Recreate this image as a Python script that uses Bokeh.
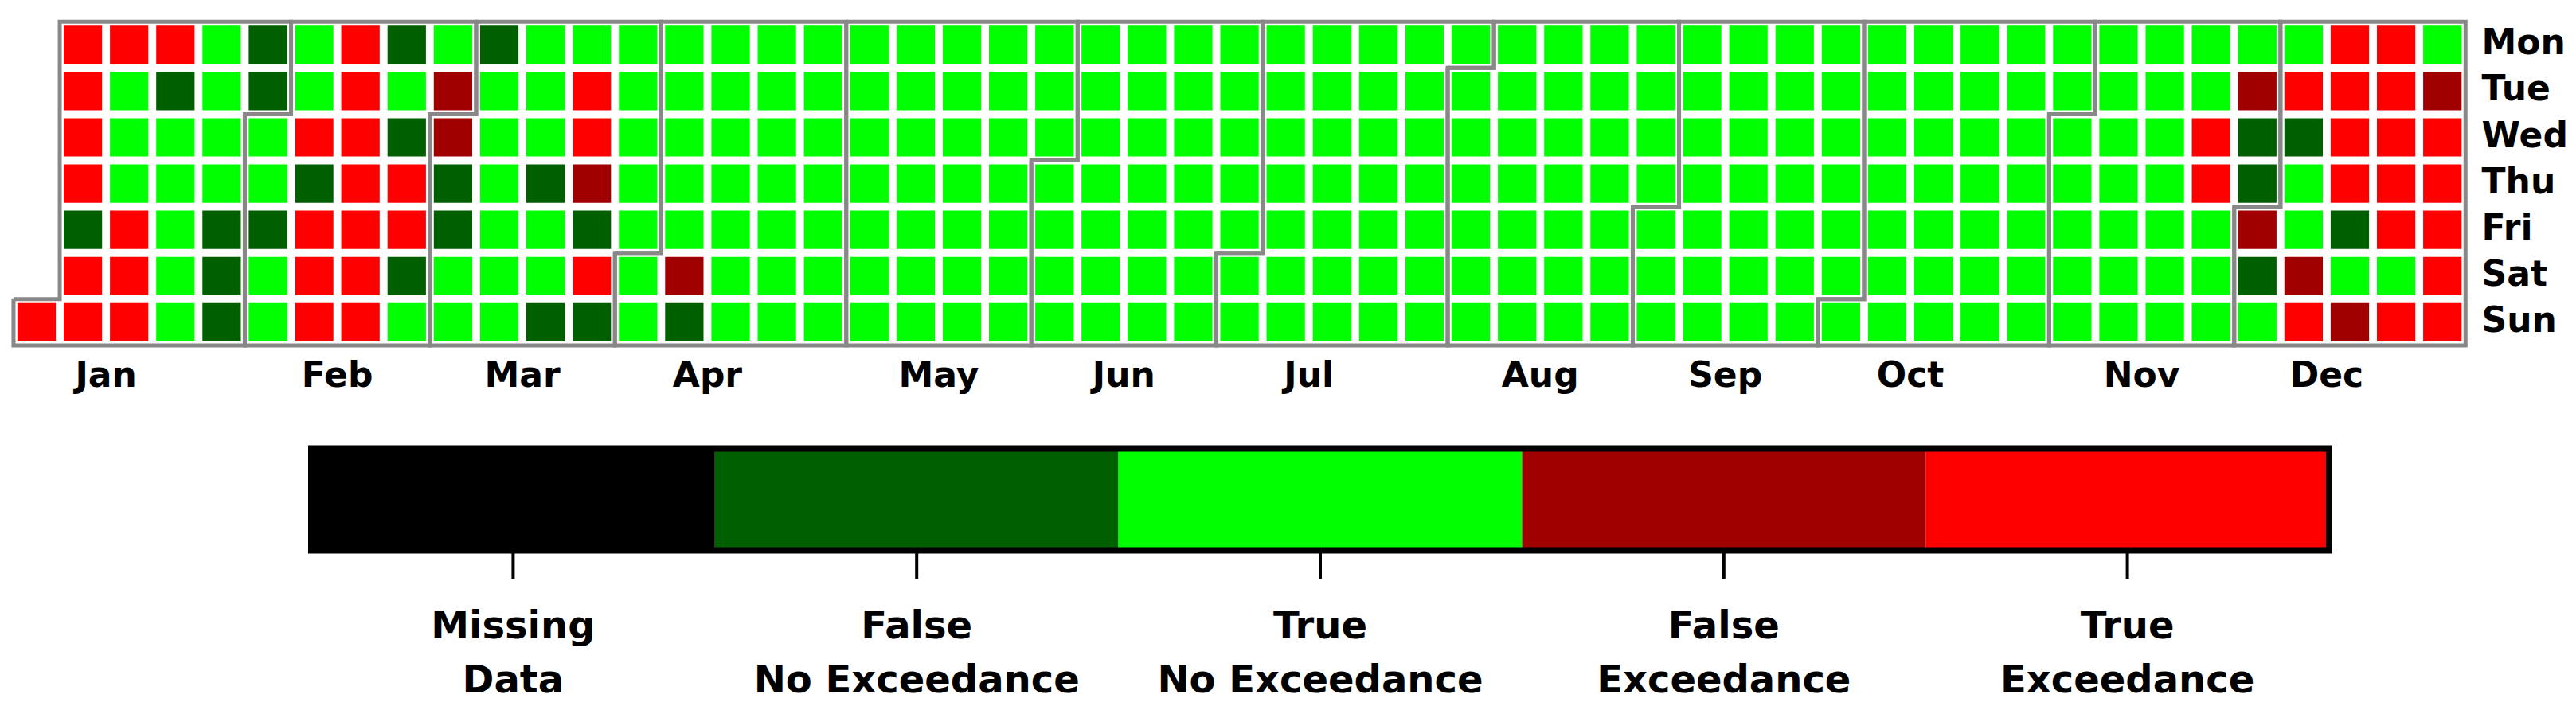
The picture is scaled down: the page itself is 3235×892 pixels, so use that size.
import datetime as dt
from bokeh.plotting import figure
from bokeh.models import Range1d, ColumnDataSource
from bokeh.layouts import column
from bokeh.core.properties import value
from bokeh.embed import file_html
from bokeh.resources import INLINE

YEAR = 2017

# legend / category definitions (code = index)
category_line1 = ["Missing", "False", "True", "False", "True"]
category_line2 = ["Data", "No Exceedance", "No Exceedance", "Exceedance", "Exceedance"]
category_colors = ["#000000", "#006000", "#00ff00", "#a00000", "#ff0000"]

day_labels = ["Mon", "Tue", "Wed", "Thu", "Fri", "Sat", "Sun"]
month_labels = ["Jan", "Feb", "Mar", "Apr", "May", "Jun",
                "Jul", "Aug", "Sep", "Oct", "Nov", "Dec"]

# one string per calendar week (Mon..Sun); digit = category code, "-" = not in year
week_codes = [
    "------4",  # 0
    "4444144",  # 1
    "4222444",  # 2
    "4122222",  # 3
    "2222111",  # 4
    "1122122",  # 5
    "2241444",  # 6
    "4444444",  # 7
    "1214412",  # 8
    "2331122",  # 9
    "1222222",  # 10
    "2221221",  # 11
    "2443141",  # 12
    "2222222",  # 13
    "2222231",  # 14
    "2222222",  # 15
    "2222222",  # 16
    "2222222",  # 17
    "2222222",  # 18
    "2222222",  # 19
    "2222222",  # 20
    "2222222",  # 21
    "2222222",  # 22
    "2222222",  # 23
    "2222222",  # 24
    "2222222",  # 25
    "2222222",  # 26
    "2222222",  # 27
    "2222222",  # 28
    "2222222",  # 29
    "2222222",  # 30
    "2222222",  # 31
    "2222222",  # 32
    "2222222",  # 33
    "2222222",  # 34
    "2222222",  # 35
    "2222222",  # 36
    "2222222",  # 37
    "2222222",  # 38
    "2222222",  # 39
    "2222222",  # 40
    "2222222",  # 41
    "2222222",  # 42
    "2222222",  # 43
    "2222222",  # 44
    "2222222",  # 45
    "2222222",  # 46
    "2244222",  # 47
    "2311312",  # 48
    "2412234",  # 49
    "4444123",  # 50
    "4444424",  # 51
    "2344444",  # 52
]

FONT = value("DejaVu Sans")

# ---------------- calendar helpers ----------------
jan1 = dt.date(YEAR, 1, 1)
offset = jan1.weekday()


def cell_of(d):
    k = (d - jan1).days + offset
    return k // 7, k % 7


# ---------------- heatmap figure ----------------
xs, ys, cols = [], [], []
for c, s in enumerate(week_codes):
    for r, ch in enumerate(s):
        if ch != "-":
            xs.append(c)
            ys.append(r)
            cols.append(category_colors[int(ch)])
src = ColumnDataSource(dict(x=xs, y=ys, color=cols))

PITCH = 58.1
W1, H1 = 3235, 528
x0 = -45.5 / PITCH
y0 = -55.8 / PITCH
p1 = figure(width=W1, height=H1,
            x_range=Range1d(x0, x0 + W1 / PITCH),
            y_range=Range1d(y0 + H1 / PITCH, y0),
            output_backend="svg", toolbar_location=None, min_border=0,
            x_axis_location=None, y_axis_location=None,
            outline_line_color=None, background_fill_color="white")
p1.xgrid.visible = False
p1.ygrid.visible = False

p1.rect(x="x", y="y", width=0.83, height=0.83, fill_color="color",
        line_color=None, source=src)

# month outlines
mx, my = [], []
for m in range(1, 13):
    d0 = dt.date(YEAR, m, 1)
    d1 = (dt.date(YEAR + 1, 1, 1) if m == 12 else dt.date(YEAR, m + 1, 1)) - dt.timedelta(days=1)
    c0, r0 = cell_of(d0)
    c1, r1 = cell_of(d1)
    pts = [(c0 - 0.5, r0 - 0.5), (c0 + 0.5, r0 - 0.5), (c0 + 0.5, -0.5),
           (c1 + 0.5, -0.5), (c1 + 0.5, r1 + 0.5), (c1 - 0.5, r1 + 0.5),
           (c1 - 0.5, 6.5), (c0 - 0.5, 6.5), (c0 - 0.5, r0 - 0.5)]
    mx.append([p[0] for p in pts])
    my.append([p[1] for p in pts])
p1.multi_line(mx, my, line_color="#888888", line_width=5, line_join="miter")

# day labels
ncol = len(week_codes)
p1.text(x=[ncol - 1 + 0.85] * 7, y=[r - 0.06 for r in range(7)], text=day_labels,
        text_font=FONT, text_font_style="bold", text_font_size="44px",
        text_align="left", text_baseline="middle", text_color="black")

# month labels at the week of the 15th
mlx = [cell_of(dt.date(YEAR, m, 15))[0] - 0.5 for m in range(1, 13)]
p1.text(x=mlx, y=[7.13] * 12, text=month_labels,
        text_font=FONT, text_font_style="bold", text_font_size="44px",
        text_align="center", text_baseline="middle", text_color="black")

# ---------------- colorbar figure ----------------
SEG = 506.8
W2, H2 = 3235, 364
cx0 = -390.5 / SEG
p2 = figure(width=W2, height=H2,
            x_range=Range1d(cx0, cx0 + W2 / SEG),
            y_range=Range1d(H2, 0),
            output_backend="svg", toolbar_location=None, min_border=0,
            x_axis_location=None, y_axis_location=None,
            outline_line_color=None, background_fill_color="white")
p2.xgrid.visible = False
p2.ygrid.visible = False

n = len(category_colors)
p2.quad(left=list(range(n)), right=[i + 1 for i in range(n)],
        top=35, bottom=163, fill_color=category_colors, line_color=None)
p2.quad(left=[0], right=[n], top=[35], bottom=[163], fill_color=None,
        line_color="black", line_width=8, line_join="miter")
tick_x = [i + 0.5 for i in range(n)]
p2.segment(x0=tick_x, y0=[163] * n, x1=tick_x, y1=[199] * n,
           line_color="black", line_width=4)
p2.text(x=tick_x, y=[256] * n, text=category_line1, text_font=FONT,
        text_font_style="bold", text_font_size="48px", text_align="center",
        text_baseline="middle", text_color="black")
p2.text(x=tick_x, y=[324] * n, text=category_line2, text_font=FONT,
        text_font_style="bold", text_font_size="48px", text_align="center",
        text_baseline="middle", text_color="black")

layout = column(p1, p2, spacing=0)
open("out.html", "w").write(file_html(layout, INLINE))
